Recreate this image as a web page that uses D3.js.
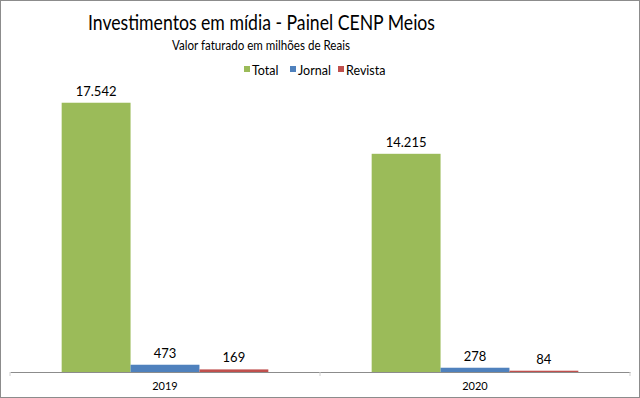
<!DOCTYPE html>
<html>
<head>
<meta charset="utf-8">
<script src="https://cdn.jsdelivr.net/npm/d3@7"></script>
<style>
  body { margin: 0; background: #fff; }
  svg { display: block; font-family: Lato, "Open Sans", sans-serif; }
</style>
</head>
<body>
<svg id="chart" width="640" height="398"></svg>
<script>
// anos e séries
var years = ["2019", "2020"];
var seriesNames = ["Total", "Jornal", "Revista"];
var seriesColors = ["#9bbb59", "#4f81bd", "#c0504d"];
var total = [17542, 14215];
var jornal = [473, 278];
var revista = [169, 84];

var svg = d3.select("#chart"),
  width = 640, height = 398,
  margin = { top: 65, right: 10, bottom: 26, left: 10 },
  plotW = width - margin.left - margin.right,
  plotH = 372 - margin.top;

var ptBR = d3.formatLocale({ decimal: ",", thousands: ".", grouping: [3], currency: ["R$", ""] });
var fmt = ptBR.format(",d");

var data = years.map(function (y, i) {
  return { year: y, values: [total[i], jornal[i], revista[i]] };
});

// borda do gráfico
svg.append("rect")
  .attr("x", 0.5).attr("y", 0.5)
  .attr("width", width - 1).attr("height", height - 1)
  .attr("fill", "#fff").attr("stroke", "#8c8c8c");

svg.append("text")
  .attr("x", 88).attr("y", 30)
  .attr("font-size", 22)
  .attr("textLength", 347)
  .attr("lengthAdjust", "spacingAndGlyphs")
  .attr("fill", "#000")
  .text("Investimentos em mídia - Painel CENP Meios");

svg.append("text")
  .attr("x", 172).attr("y", 50)
  .attr("font-size", 13.5)
  .attr("textLength", 178)
  .attr("lengthAdjust", "spacingAndGlyphs")
  .attr("fill", "#000")
  .text("Valor faturado em milhões de Reais");

var x0 = d3.scaleBand().domain(years).range([0, plotW]).paddingInner(0).paddingOuter(0);
var x1 = d3.scaleBand().domain(seriesNames).range([0, x0.bandwidth()]).paddingOuter(0.75).paddingInner(0);
var y = d3.scaleLinear().domain([0, 20000]).range([plotH, 0]);
var color = d3.scaleOrdinal().domain(seriesNames).range(seriesColors);

// legenda
var legendX = [244, 290, 338];
var legend = svg.append("g").attr("class", "legend");
seriesNames.forEach(function (s, i) {
  legend.append("rect")
    .attr("x", legendX[i]).attr("y", 66)
    .attr("width", 6).attr("height", 6)
    .attr("fill", color(s));
  legend.append("text")
    .attr("x", legendX[i] + 8).attr("y", 74.5)
    .attr("font-size", 12.5)
    .attr("fill", "#000")
    .text(s);
});

var g = svg.append("g")
  .attr("transform", "translate(" + margin.left + "," + margin.top + ")");

var groups = g.selectAll(".group")
  .data(data)
  .enter().append("g")
  .attr("class", "group")
  .attr("transform", function (d) { return "translate(" + x0(d.year) + ",0)"; });

groups.selectAll("rect")
  .data(function (d) { return d.values.map(function (v, i) { return { key: seriesNames[i], value: v }; }); })
  .enter().append("rect")
  .attr("x", function (d) { return x1(d.key); })
  .attr("y", function (d) { return y(d.value); })
  .attr("width", x1.bandwidth())
  .attr("height", function (d) { return plotH - y(d.value); })
  .attr("fill", function (d) { return color(d.key); });

groups.selectAll(".label")
  .data(function (d) { return d.values.map(function (v, i) { return { key: seriesNames[i], value: v }; }); })
  .enter().append("text")
  .attr("class", "label")
  .attr("x", function (d) { return x1(d.key) + x1.bandwidth() / 2; })
  .attr("y", function (d) { return y(d.value) - 7; })
  .attr("text-anchor", "middle")
  .attr("font-size", 13)
  .attr("fill", "#000")
  .text(function (d) { return fmt(d.value); });

// eixo x
var xAxis = g.append("g")
  .attr("class", "axis axis--x")
  .attr("transform", "translate(0," + plotH + ")")
  .call(d3.axisBottom(x0).tickSize(0).tickPadding(10));
xAxis.select(".domain").attr("stroke", "#8c8c8c");
xAxis.selectAll("text").attr("font-size", 11).attr("font-family", "Lato, 'Open Sans', sans-serif").attr("fill", "#000");

// marcas entre categorias
xAxis.selectAll(".sep")
  .data([0, x0.bandwidth(), plotW])
  .enter().append("line")
  .attr("class", "sep")
  .attr("x1", function (d) { return d; }).attr("x2", function (d) { return d; })
  .attr("y1", 0).attr("y2", 4)
  .attr("stroke", "#d0d0d0");
</script>
</body>
</html>
